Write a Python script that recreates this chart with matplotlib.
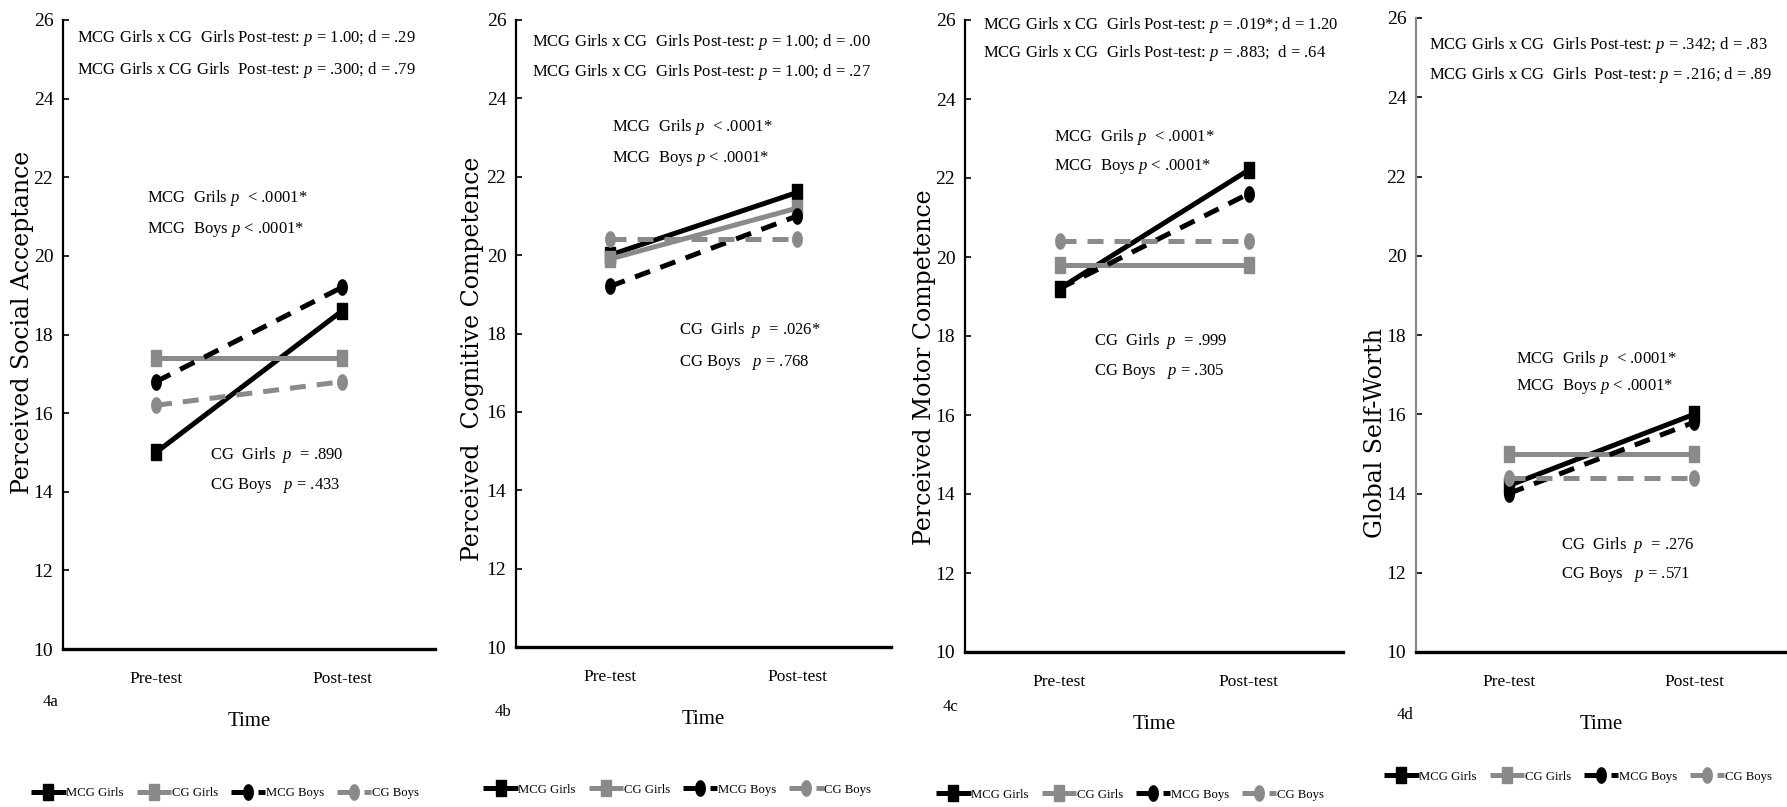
import matplotlib
matplotlib.use('Agg')
import matplotlib.pyplot as plt
import numpy as np

plt.rcParams['font.family'] = ['Liberation Serif', 'DejaVu Serif']
plt.rcParams['mathtext.fontset'] = 'custom'
plt.rcParams['mathtext.rm'] = 'Liberation Serif'
plt.rcParams['mathtext.it'] = 'Liberation Serif:italic'

# ---------------- data ----------------
time_labels = ['Pre-test', 'Post-test']
series_names = ['MCG Girls', 'CG Girls', 'MCG Boys', 'CG Boys']

social_mcg_girls = [15.0, 18.6]
social_cg_girls = [17.4, 17.4]
social_mcg_boys = [16.8, 19.2]
social_cg_boys = [16.2, 16.8]

cognitive_mcg_girls = [20.0, 21.6]
cognitive_cg_girls = [19.9, 21.2]
cognitive_mcg_boys = [19.2, 21.0]
cognitive_cg_boys = [20.4, 20.4]

motor_mcg_girls = [19.2, 22.2]
motor_cg_girls = [19.8, 19.8]
motor_mcg_boys = [19.2, 21.6]
motor_cg_boys = [20.4, 20.4]

global_mcg_girls = [14.2, 16.0]
global_cg_girls = [15.0, 15.0]
global_mcg_boys = [14.0, 15.8]
global_cg_boys = [14.4, 14.4]

y_titles = ['Perceived Social Acceptance', 'Perceived  Cognitive Competence',
            'Perceived Motor Competence', 'Global Self-Worth']
panel_tags = ['4a', '4b', '4c', '4d']
y_ticks = [10, 12, 14, 16, 18, 20, 22, 24, 26]

notes_top = [
    ['MCG Girls x CG  Girls Post-test: p = 1.00; d = .29',
     'MCG Girls x CG Girls  Post-test: p = .300; d = .79'],
    ['MCG Girls x CG  Girls Post-test: p = 1.00; d = .00',
     'MCG Girls x CG  Girls Post-test: p = 1.00; d = .27'],
    ['MCG Girls x CG  Girls Post-test: p = .019*; d = 1.20',
     'MCG Girls x CG  Girls Post-test: p = .883;  d = .64'],
    ['MCG Girls x CG  Girls Post-test: p = .342; d = .83',
     'MCG Girls x CG  Girls  Post-test: p = .216; d = .89'],
]
notes_mid = [['MCG  Grils p  < .0001*', 'MCG  Boys p < .0001*']] * 4
notes_low = [
    ['CG  Girls  p  = .890', 'CG Boys   p = .433'],
    ['CG  Girls  p  = .026*', 'CG Boys   p = .768'],
    ['CG  Girls  p  = .999', 'CG Boys   p = .305'],
    ['CG  Girls  p  = .276', 'CG Boys   p = .571'],
]

panels = [
    [social_mcg_girls, social_cg_girls, social_mcg_boys, social_cg_boys],
    [cognitive_mcg_girls, cognitive_cg_girls, cognitive_mcg_boys, cognitive_cg_boys],
    [motor_mcg_girls, motor_cg_girls, motor_mcg_boys, motor_cg_boys],
    [global_mcg_girls, global_cg_girls, global_mcg_boys, global_cg_boys],
]

# ---------------- layout / style ----------------
W, H = 1787, 807
axes_px = [  # left, right, bottom, top in pixels (from top)
    (63, 435, 649, 20),
    (516, 891, 647, 20),
    (965, 1343, 652, 20),
    (1416, 1787, 652, 18),
]
top_pos = [(-0.425, 25.54, 24.73), (-0.414, 25.44, 24.68), (-0.404, 25.87, 25.17), (-0.43, 25.32, 24.56)]
mid_pos = [(-0.05, 21.47, 20.66), (0.01, 23.27, 22.46), (-0.03, 23.05, 22.3), (0.04, 17.4, 16.7)]
low_pos = [(0.29, 14.94, 14.17), (0.37, 18.08, 17.27), (0.18, 17.87, 17.11), (0.28, 12.7, 11.95)]
ylabel_pos = [(-0.11, 0.52), (-0.115, 0.46), (-0.106, 0.45), (-0.108, 0.345)]
tag_pos = [(-0.056, -0.084), (-0.056, -0.104), (-0.058, -0.087), (-0.051, -0.10)]
legend_pos = [(0.436, -0.229), (0.43, -0.228), (0.437, -0.226), (0.437, -0.197)]

BLACK = '#000000'
GREY = '#8a8a8a'
colors = [BLACK, GREY, BLACK, GREY]
styles = ['-', '-', '--', '--']

t = np.linspace(0, 2 * np.pi, 40)
ellipse = list(zip(0.62 * np.cos(t), np.sin(t)))
rect = [(-0.65, -1), (0.65, -1), (0.65, 1), (-0.65, 1), (-0.65, -1)]
markers = [rect, rect, ellipse, ellipse]


def ital(s):
    return s.replace(' p ', ' $p$ ')


fig = plt.figure(figsize=(W / 100, H / 100), dpi=100)
x = np.arange(len(time_labels))

for i in range(4):
    l, r, b, tp = axes_px[i]
    ax = fig.add_axes([l / W, 1 - b / H, (r - l) / W, (b - tp) / H])
    for k, vals in enumerate(panels[i]):
        ln, = ax.plot(x, vals, color=colors[k], linestyle=styles[k], lw=3.6,
                      marker=markers[k], markersize=11, markerfacecolor=colors[k],
                      markeredgecolor=colors[k], label=series_names[k],
                      solid_capstyle='butt', dash_capstyle='butt')
        if styles[k] == '--':
            ln.set_dashes((3.2, 2.2))
    ax.set_xlim(-0.5, 1.5)
    ax.set_ylim(10, 26)
    ax.set_yticks(y_ticks)
    ax.set_xticks(x)
    ax.set_xticklabels(time_labels, fontsize=12.5)
    ax.tick_params(axis='x', length=0, pad=16)
    ax.tick_params(axis='y', direction='in', length=4, width=1.2, labelsize=14, pad=7)
    for s in ['top', 'right']:
        ax.spines[s].set_visible(False)
    ax.spines['left'].set_linewidth(1.6)
    ax.spines['left'].set_color(GREY if i == 3 else BLACK)
    ax.spines['bottom'].set_linewidth(2.4)
    ax.set_xlabel('Time', fontsize=15)
    ax.xaxis.set_label_coords(0.5, -0.10)
    ax.set_ylabel(y_titles[i], fontsize=17, family=['DejaVu Serif'], va='center')
    ax.yaxis.set_label_coords(*ylabel_pos[i])
    ax.text(tag_pos[i][0], tag_pos[i][1], panel_tags[i], transform=ax.transAxes,
            fontsize=12, va='center', ha='left')
    for (px, y1, y2), lines in zip([top_pos[i], mid_pos[i], low_pos[i]],
                                   [notes_top[i], notes_mid[i], notes_low[i]]):
        ax.text(px, y1, ital(lines[0]), fontsize=12, va='center', ha='left')
        ax.text(px, y2, ital(lines[1]), fontsize=12, va='center', ha='left')
    leg = ax.legend(loc='center', bbox_to_anchor=legend_pos[i], ncol=4, frameon=False,
                    fontsize=9.2, handlelength=2.7, handletextpad=0.05,
                    columnspacing=1.0, borderaxespad=0, borderpad=0)

fig.savefig('out.png', dpi=100)
